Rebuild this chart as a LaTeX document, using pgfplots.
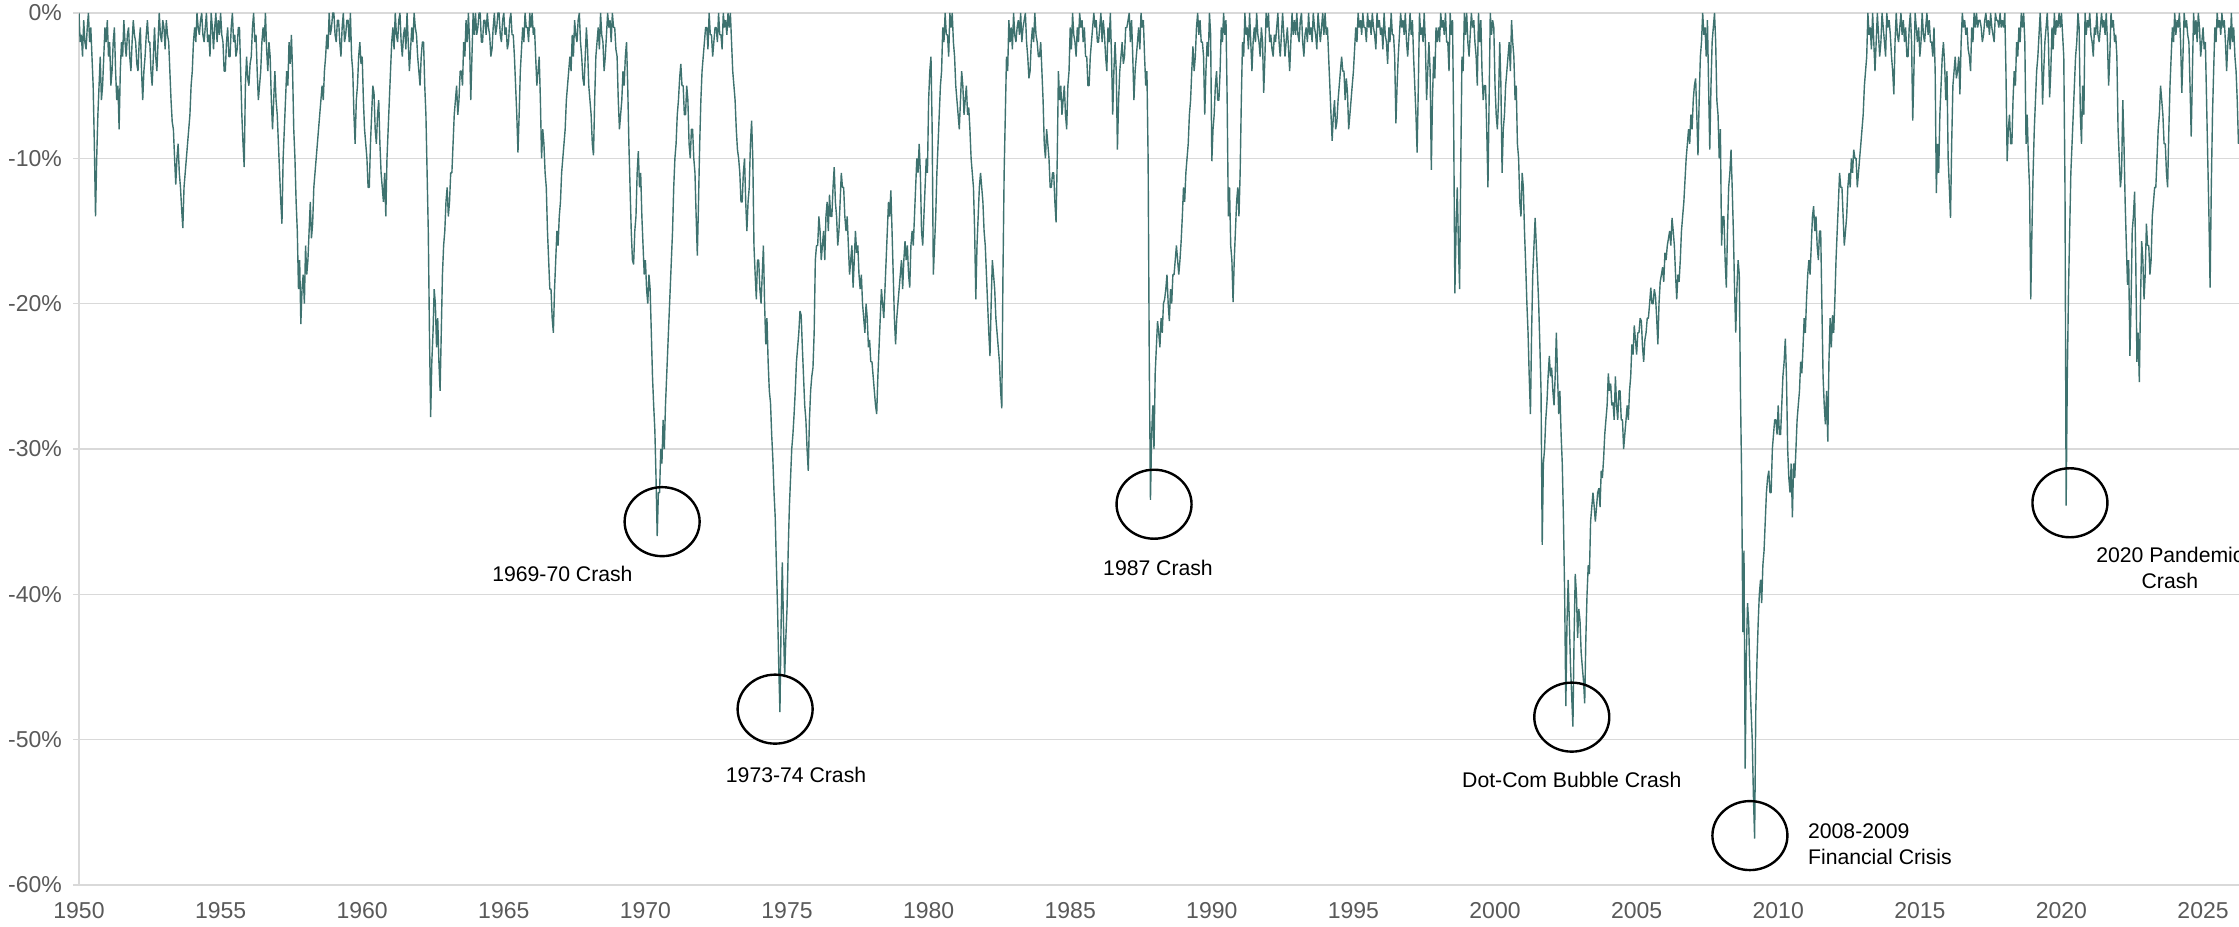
\documentclass[border=0pt]{standalone}
\usepackage{fontspec}
\setmainfont{Liberation Sans}
\usepackage{pgfplots}
\pgfplotsset{compat=1.18}

\definecolor{ddline}{RGB}{62,114,111}
\definecolor{gridgray}{RGB}{217,217,217}
\definecolor{ticktext}{RGB}{89,89,89}

\begin{document}
\begin{tikzpicture}
\begin{axis}[
    scale only axis,
    width=1080pt, height=436pt,
    xmin=1950, xmax=2026.27,
    ymin=-60, ymax=0,
    xtick={1950,1955,1960,1965,1970,1975,1980,1985,1990,1995,2000,2005,2010,2015,2020,2025},
    xticklabels={1950,1955,1960,1965,1970,1975,1980,1985,1990,1995,2000,2005,2010,2015,2020,2025},
    ytick={-60,-50,-40,-30,-20,-10,0},
    yticklabels={-60\%,-50\%,-40\%,-30\%,-20\%,-10\%,0\%},
    ymajorgrids,
    major grid style={draw=gridgray, line width=0.75pt},
    axis x line*=bottom, axis y line*=left,
    axis line style={-, draw=gridgray, line width=1pt},
    xtick style={draw=none},
    ytick style={draw=gridgray, line width=0.75pt},
    tick align=outside, major tick length=3pt,
    ticklabel style={font=\fontsize{11.5}{13}\selectfont, text=ticktext},
    yticklabel style={xshift=-2pt},
    xticklabel style={yshift=-2pt},
]
\coordinate (SW) at (rel axis cs:0,0);
\coordinate (NE) at (rel axis cs:1,1);

% drawdown from previous peak, %, two readings per month from Jan 1950
\addplot[ddline, line width=0.7pt, line join=bevel] table[header=false, row sep=\\, x expr={1950+\coordindex/24}, y index=0] {
0\\-2\\-1.5\\-3\\-0.5\\-2\\-2.5\\-1\\0\\-2\\-1\\-3\\-5\\-9\\-14\\-10\\-7\\-5\\-3\\-6\\-5\\-3\\-1\\-2\\
-0.5\\-3\\-2\\-5\\-4\\-2\\-1\\-4\\-6\\-5\\-8\\-4\\-2\\-3\\-0.5\\-2\\-3\\-1.5\\-1\\-3\\-4\\-2\\-0.5\\-1.5\\
-2\\-3.5\\-4\\-2\\-1\\-4\\-6\\-4\\-3\\-1.5\\-0.5\\-2\\-2\\-4\\-5\\-3\\-1\\-3\\-4\\-2\\0\\-1.5\\-2\\-0.5\\
-1\\-2.5\\-0.5\\-1.5\\-2\\-4\\-6\\-7.5\\-8\\-10\\-11.8\\-10\\-9\\-11\\-12\\-13.5\\-14.8\\-12\\-11\\-10\\-9\\-8\\-7\\-5\\
-4\\-2\\-1\\-2\\0\\-1\\-1.5\\-0.5\\0\\-1.5\\-2\\-1\\0\\-2\\-1.5\\-3\\0\\-1\\-2.5\\-1\\0\\-2\\-0.5\\-1.5\\
0\\-1.5\\-2\\-4\\-4\\-2\\-1\\-3\\-3\\-1\\0\\-2\\-1.5\\-3\\-2.5\\-1\\-1\\-4\\-7\\-9\\-10.6\\-5\\-3\\-4.5\\
-5\\-3.5\\-3\\-1\\0\\-2\\-1.5\\-4\\-6\\-5\\-4\\-2\\-1\\-2\\0\\-2.5\\-4\\-2\\-3\\-6\\-8\\-6\\-4\\-6\\
-7\\-9\\-11\\-13\\-14.5\\-10\\-8\\-6\\-4\\-5\\-2\\-3.5\\-1.5\\-4\\-8\\-10\\-13\\-15\\-19\\-17\\-21.4\\-19\\-18\\-20\\
-16\\-18\\-17\\-15\\-13\\-15.5\\-14.5\\-12\\-11\\-10\\-9\\-8\\-7\\-6\\-5\\-6\\-4\\-3\\-1.5\\-2.5\\0\\-1.5\\-1\\0\\
0\\-1.5\\-2\\-0.5\\-0.5\\-2\\-3\\-1\\0\\-2\\-1.5\\-0.5\\-0.5\\-2\\0\\-3\\-4\\-7\\-9\\-6\\-5\\-3\\-2\\-3.5\\
-3\\-6\\-8\\-9\\-10\\-12\\-12\\-9\\-7\\-5\\-5.5\\-8\\-9\\-7\\-6\\-9\\-11\\-12\\-13\\-11\\-14\\-10\\-8\\-6\\
-4\\-2\\-1\\-2.5\\0\\-1.5\\-2\\-0.5\\0\\-2\\-3\\-1.5\\-1\\-2.5\\0\\-2\\-4\\-2.5\\-1\\-2\\0\\-1\\-1.5\\-3\\
-4\\-5\\-3\\-2\\-2\\-5\\-7\\-11\\-15\\-22\\-27.8\\-24\\-22\\-19\\-20\\-23\\-21\\-24\\-26\\-22\\-18\\-16\\-15\\-13\\
-12\\-14\\-13\\-11\\-11\\-9\\-7\\-6\\-5\\-7\\-6\\-4\\-4\\-5\\-2\\-3\\-0.5\\-2\\0\\-2\\-6\\-3\\0\\-1.5\\
0\\-1.5\\-1\\0\\0\\-2\\-2\\-0.5\\-0.5\\-1.5\\0\\-1\\-1.5\\-3\\-2.5\\-1\\0\\-1.5\\-1\\0\\0\\-1.5\\-2\\-0.5\\
0\\-1.5\\-1\\-2.5\\-2\\-0.5\\0\\-1.5\\-1.5\\-3\\-5\\-7\\-9.6\\-7\\-4\\-2.5\\-1\\-2\\0\\-1\\-1\\-2\\0\\-1\\
0\\-1.5\\-1\\-3\\-5\\-4\\-3\\-6\\-10\\-8\\-9\\-11\\-12\\-15\\-17\\-19\\-19\\-21\\-22\\-19\\-17\\-15\\-16\\-14\\
-13\\-11\\-10\\-9\\-8\\-6\\-5\\-4\\-3\\-4\\-1.5\\-3\\-0.5\\-1.5\\-2\\-0.5\\0\\-2\\-3\\-4.5\\-5\\-3\\-1\\-2.5\\
-5\\-6\\-7\\-9\\-9.8\\-6\\-3\\-2\\-1\\-2.5\\0\\-1.5\\-2\\-4\\-3\\-1.5\\0\\-1\\-0.5\\-2\\0\\-1\\-1\\-2.5\\
-3\\-6\\-8\\-7\\-6\\-4\\-5\\-3\\-2\\-5\\-9\\-12\\-15\\-17\\-17.3\\-15\\-14\\-11\\-9.5\\-12\\-11\\-14\\-16\\-18\\
-17\\-19\\-20\\-18\\-19\\-22\\-25\\-27\\-28.7\\-32\\-36\\-33\\-33\\-30\\-31\\-28\\-30\\-27\\-25\\-23\\-21\\-19\\-17\\-15\\
-12\\-10\\-9\\-7\\-6\\-4.5\\-3.5\\-5\\-5\\-7\\-7\\-5\\-6\\-9\\-10\\-8\\-8\\-10\\-11\\-14\\-16.7\\-13\\-9\\-6\\
-4\\-3\\-2\\-1\\-1\\-2.5\\0\\-1.5\\-1.5\\-3\\-2\\-1\\-1\\-2\\0\\-1.5\\-1.5\\-2.5\\0\\-1\\-0.5\\-1.5\\0\\-1\\
0\\-2\\-4\\-5\\-6\\-8\\-9.4\\-10\\-11\\-13\\-13\\-11\\-10\\-13\\-15\\-13\\-12\\-9\\-7.4\\-10\\-16\\-18\\-19.7\\-17\\
-17\\-19\\-20\\-18\\-16\\-20\\-22.8\\-21\\-24\\-26\\-26.8\\-29\\-30.7\\-33\\-34.7\\-38\\-41\\-45\\-48.1\\-42\\-37.8\\-42\\-45.7\\-43\\
-41\\-37\\-34\\-32\\-30\\-29\\-27.6\\-26\\-24\\-23\\-22\\-20.5\\-20.8\\-23\\-25\\-27\\-28\\-30\\-31.5\\-28\\-26\\-25\\-24.4\\-22\\
-17\\-16\\-16\\-14\\-15\\-17\\-16\\-15\\-17\\-14\\-13\\-15\\-12.5\\-14\\-14\\-12\\-10.6\\-13\\-14\\-16\\-15\\-13\\-11\\-12\\
-12\\-14\\-15\\-14\\-16\\-18\\-17\\-16\\-18.9\\-17\\-15\\-16.5\\-16\\-18\\-19\\-18\\-20\\-21\\-22\\-20\\-21\\-23\\-22.5\\-24\\
-24\\-25\\-26\\-27\\-27.6\\-25\\-23\\-21\\-19\\-20\\-21\\-19\\-17\\-15\\-13\\-14\\-12.2\\-15\\-18\\-21\\-22.8\\-21\\-20\\-19\\
-18\\-17\\-19\\-17\\-15.7\\-17\\-16\\-18\\-18.9\\-16\\-15\\-16\\-14\\-12\\-10\\-11\\-9\\-11\\-15\\-16\\-14\\-12\\-10\\-11\\
-6\\-4\\-3\\-8\\-18\\-16\\-14\\-11\\-9\\-7\\-5\\-4\\-1\\-2\\0\\-1.5\\-1.5\\-3\\0\\-1\\0\\-2\\-3\\-5\\
-6\\-7\\-8\\-6\\-4\\-5\\-7\\-6\\-5\\-7\\-6.5\\-8\\-10\\-11\\-12\\-15\\-19.7\\-16\\-14\\-12\\-11\\-12\\-13\\-15\\
-16\\-18\\-20\\-22\\-23.6\\-20\\-17\\-18\\-19\\-21\\-22\\-23\\-24\\-26\\-27.2\\-18\\-11\\-7\\-3\\-4\\-0.5\\-2\\-1\\-2.5\\
0\\-1.5\\-2\\-1\\-0.5\\-1.5\\0\\-2\\-1\\-0.5\\0\\-2\\-3\\-4.5\\-4\\-2\\-1\\-2\\0\\-1.5\\-2\\-3\\-3\\-2\\
-4\\-6\\-9\\-10\\-8\\-9\\-10\\-12\\-12\\-11\\-11\\-13\\-14.4\\-10\\-4\\-6\\-5\\-7\\-6\\-5\\-7\\-8\\-5\\-4\\
-1\\-2.5\\0\\-1.5\\-2\\-3\\-1\\-2\\0\\-1\\-0.5\\-2\\-1\\-3\\-3\\-5\\-5\\-3\\-2\\-1\\0\\-1\\-0.5\\-2\\
-2\\-1\\0\\-2\\-0.5\\-1.5\\-3\\-4\\-1\\-2\\0\\-3\\-7\\-4\\-2\\-4\\-9.4\\-6\\-4\\-3\\-2\\-3.5\\-3\\-1\\
-1\\-0.5\\0\\-2\\-0.5\\-3\\-6\\-4\\-3\\-2\\-1\\-2.5\\0\\-1\\-0.5\\-3\\-5\\-4\\-10\\-24\\-33.5\\-29\\-27\\-30\\
-24.8\\-23\\-21.2\\-22\\-23\\-21\\-22\\-20\\-19.7\\-19\\-18\\-20\\-21.2\\-19\\-20\\-18\\-18\\-17\\-16\\-17\\-18\\-17\\-15.7\\-14\\
-12\\-13\\-11\\-10\\-9\\-7\\-6\\-4\\-2.3\\-4\\-3\\-1\\0\\-1.5\\-0.5\\-2\\-2\\-3\\-7\\-4\\-2\\-3\\0\\-1.5\\
-10.2\\-8\\-7\\-5\\-4\\-6\\-6\\-4\\-1\\-2\\0\\-1.5\\-0.5\\-6\\-14\\-12\\-16\\-17\\-19.9\\-17\\-15\\-13\\-12\\-14\\
-11\\-6\\-2\\-3\\0\\-1.5\\-1\\-2.5\\0\\-2\\-4\\-2\\-1\\-2\\0\\-1.5\\-2\\-3\\-1\\-2\\-5.5\\-3\\0\\-1\\
0\\-2\\-1.5\\-2.5\\-3\\-1.5\\-2\\-1\\0\\-2\\-3\\-1.5\\0\\-1.5\\-3\\-2\\-1\\-2.5\\-4\\-2\\0\\-1.5\\-0.5\\-1.5\\
0\\-1.5\\-2\\-0.5\\0\\-2\\-3\\-1.5\\-1\\-2\\0\\-1.5\\-1\\-2\\0\\-1\\-1.5\\-2.5\\0\\-1\\-2\\-1\\0\\-1.5\\
0\\-1.5\\-1\\-3\\-5\\-7\\-8.8\\-7\\-6\\-8\\-7.5\\-6\\-5\\-4\\-3\\-4\\-4\\-6\\-4.5\\-5.5\\-8\\-7\\-6\\-5\\
-4\\-2.5\\-1\\-2\\0\\-1\\-0.5\\-1.5\\0\\-1\\-1\\-2\\0\\-1\\-0.5\\-1.5\\0\\-1\\-1.5\\-2.5\\0\\-1\\-0.5\\-1.5\\
-1\\-2.5\\0\\-1.5\\-2\\-3.5\\-1\\-2\\0\\-1.5\\-1.5\\-3\\-7.6\\-5\\-3\\-1.5\\0\\-1\\-0.5\\-1.5\\0\\-2\\-3\\-1.5\\
0\\-1.5\\-0.5\\-3\\-5\\-7\\-9.6\\-5\\0\\-1.5\\-1\\-2\\0\\-2\\-6\\-4\\-2\\-4\\-10.8\\-6\\-3\\-4.5\\-1\\-2\\
-1\\-2\\0\\-1\\-0.5\\-1.5\\0\\-2\\-2\\-4\\0\\-1.5\\-0.5\\-8\\-19.3\\-15\\-12\\-16\\-19\\-10\\-3\\-4\\0\\-1.5\\
0\\-2\\-3\\-1.5\\0\\-1\\-0.5\\-2\\-3\\-5\\0\\-2\\-0.5\\-4\\-6\\-5\\-5\\-8\\-12\\-6\\0\\-1.5\\-0.5\\-1\\
-5\\-7\\-8\\-6\\-2\\-5\\-11\\-8\\-7\\-5\\-4\\-3\\-2\\-4\\-0.5\\-2\\-3\\-6\\-5\\-9\\-10\\-13\\-14\\-11\\
-12\\-15\\-17.3\\-20\\-22\\-25\\-27.6\\-22\\-18\\-16\\-14.1\\-16\\-18\\-20\\-22.8\\-26\\-36.6\\-31\\-30\\-28\\-26.8\\-25\\-23.6\\-25\\
-24.4\\-26\\-27\\-25\\-22\\-25\\-27.6\\-26\\-29\\-31\\-34.7\\-40\\-47.7\\-42\\-39\\-42\\-45\\-47\\-49.1\\-43\\-38.6\\-40\\-43\\-41\\
-41.8\\-44\\-45\\-46\\-47.5\\-43\\-40\\-38\\-38.6\\-35\\-34\\-33\\-33.9\\-35\\-34\\-33\\-32.7\\-34\\-31.5\\-32\\-30.7\\-29\\-28\\-27\\
-24.8\\-26\\-25.5\\-27\\-26.8\\-28\\-25\\-27\\-28\\-26\\-26\\-28\\-28\\-30\\-29\\-28\\-27\\-28\\-26\\-25\\-22.8\\-23.5\\-21.5\\-22.5\\
-23.5\\-22\\-22\\-21\\-21.2\\-23\\-24\\-22.5\\-22\\-21\\-21\\-20\\-18.9\\-20\\-20\\-19\\-19.5\\-21\\-22.8\\-20\\-18.5\\-18\\-17.5\\-18.5\\
-16.5\\-17\\-16\\-15.5\\-15\\-16\\-14.1\\-15\\-16\\-18\\-19.7\\-18\\-18.5\\-17\\-15\\-14\\-13\\-11.5\\-10\\-9\\-8\\-9\\-7\\-8\\
-6\\-5\\-4.5\\-7\\-9.8\\-6\\-3\\-2\\0\\-1.5\\-1\\-3\\-0.5\\-5\\-9.4\\-5\\-2\\-1\\0\\-2\\-6\\-7\\-10\\-8\\
-16\\-14\\-14\\-17\\-18.9\\-15\\-12\\-11\\-9.4\\-12\\-15\\-19\\-22\\-19\\-17\\-18\\-26\\-32\\-42.6\\-37\\-52\\-44\\-40.6\\-42\\
-45.7\\-48\\-50\\-54\\-56.8\\-48\\-44.5\\-42\\-40\\-39\\-40.6\\-38\\-37\\-35\\-33\\-32\\-31.5\\-33\\-33\\-30\\-29\\-28\\-28\\-29\\
-27\\-29\\-29\\-27\\-25\\-24\\-22.4\\-25\\-30\\-32\\-33\\-31\\-34.7\\-31\\-32\\-30\\-28\\-27\\-26\\-24\\-24.8\\-23\\-21\\-22\\
-19.7\\-18\\-17\\-18\\-16\\-14\\-13.3\\-15\\-14\\-16\\-17\\-15\\-15\\-20\\-25\\-27\\-28.3\\-26\\-29.5\\-24\\-21\\-23\\-20.8\\-22\\
-19.7\\-17\\-15\\-13\\-11\\-12\\-12\\-14\\-16\\-15\\-14\\-12\\-11\\-12\\-10\\-11\\-9.4\\-10\\-10\\-12\\-11\\-10\\-9\\-8\\
-7\\-5\\-4\\-3\\0\\-1.5\\-1\\-2.5\\0\\-2\\-4\\-2\\0\\-1.5\\-3\\-2\\0\\-1\\-2\\-3\\0\\-1\\-0.5\\-1.5\\
-3\\-4\\-5.6\\-2\\0\\-1.5\\-2\\-1\\0\\-1.5\\-0.5\\-2\\-1\\-3\\-3\\-1\\0\\-2\\-7.4\\-4\\0\\-1\\-2\\-1\\
-3\\-2\\0\\-1.5\\-2\\-1\\0\\-1.5\\-0.5\\-2\\-2\\-3\\-1\\-4\\-12.4\\-9\\-11\\-7\\-5\\-3\\-2\\-3.5\\-6\\-4\\
-10\\-12\\-14.1\\-9\\-5\\-4\\-3\\-4.5\\-4\\-3\\-5.6\\-2\\0\\-1\\-0.5\\-1.5\\-1\\-2.5\\-3\\-4\\-1\\-2\\0\\-1\\
0\\-1\\-0.5\\-0.5\\-1\\-2\\-1.5\\-0.5\\0\\-1\\-0.5\\-1.5\\0\\-1\\-1.5\\-2\\0\\-0.5\\-0.5\\-1\\0\\-1\\-0.5\\-1\\
0\\-4\\-10.2\\-8\\-7\\-9\\-9\\-6\\-4\\-5\\-2\\-3\\-1\\-2\\0\\-1\\0\\-2\\-9\\-7\\-10\\-12\\-19.7\\-15\\
-11\\-8\\-6\\-4\\-3\\-1.5\\0\\-2\\-6.3\\-4\\-2\\-1\\0\\-2\\-5.8\\-4\\-1\\-2.5\\0\\-1.5\\-0.5\\-1\\0\\-1\\
0\\-1.5\\-3\\-12\\-33.9\\-25\\-19\\-15\\-11\\-9\\-7\\-5\\-3\\-2\\0\\-1\\-7\\-9\\-5\\-7\\0\\-1.5\\-0.5\\-1\\
0\\-1.5\\-2\\-3\\-1\\-1.5\\0\\-1.5\\-2\\-1\\0\\-1\\-0.5\\-1.5\\0\\-2\\-5\\-3\\0\\-1\\-0.5\\-2\\-1.5\\-3\\
-8\\-10\\-12\\-11\\-6\\-9\\-13\\-16\\-18.7\\-17\\-23.6\\-20\\-15\\-14\\-12.3\\-17\\-24\\-22\\-25.4\\-20\\-15.7\\-17\\-19.7\\-18\\
-14.5\\-16\\-16\\-18\\-17\\-14\\-13\\-12\\-12\\-10\\-8\\-7\\-5\\-6\\-7\\-9\\-9\\-11\\-12\\-8\\-5\\-3\\-1\\-2\\
0\\-1.5\\-0.5\\-1\\0\\-2\\-5.5\\-3\\0\\-1\\-0.5\\-1.5\\-2\\-5\\-8.5\\-4\\0\\-1.5\\-0.5\\-2\\0\\-1\\-3\\-2\\
-1\\-2.5\\-2\\-6\\-10\\-14\\-18.9\\-12\\-7\\-4\\-1\\-2\\0\\-1\\-0.5\\-1.5\\0\\-1\\-0.5\\-2\\-4\\-2\\-1\\-2.5\\
0\\-2\\-1\\-3\\-4\\-6\\-9\\
};

% crash markers
\draw[black, line width=1.2pt] (axis cs:1970.59,-35.0) ellipse [x radius=18.75pt, y radius=17.25pt];
\draw[black, line width=1.2pt] (axis cs:1974.58,-47.9) ellipse [x radius=18.75pt, y radius=17.25pt];
\draw[black, line width=1.2pt] (axis cs:1987.96,-33.8) ellipse [x radius=18.75pt, y radius=17.25pt];
\draw[black, line width=1.2pt] (axis cs:2002.71,-48.45) ellipse [x radius=18.75pt, y radius=17.25pt];
\draw[black, line width=1.2pt] (axis cs:2009.00,-56.6) ellipse [x radius=18.75pt, y radius=17.25pt];
\draw[black, line width=1.2pt] (axis cs:2020.30,-33.7) ellipse [x radius=18.75pt, y radius=17.25pt];

\tikzset{lbl/.style={font=\fontsize{10.6}{13.2}\selectfont, text=black, inner sep=0pt}}
\node[lbl] at (axis cs:1967.07,-38.6) {1969-70 Crash};
\node[lbl] at (axis cs:1975.32,-52.4) {1973-74 Crash};
\node[lbl] at (axis cs:1988.10,-38.2) {1987 Crash};
\node[lbl] at (axis cs:2002.71,-52.75) {Dot-Com Bubble Crash};
\node[lbl, anchor=west, align=left] at (axis cs:2011.04,-57.2) {2008-2009\\Financial Crisis};
\node[lbl, align=center] at (axis cs:2023.83,-38.2) {2020 Pandemic\\Crash};
\end{axis}
\pgfresetboundingbox
\path[use as bounding box] ([xshift=-39.5pt,yshift=-21pt]SW) rectangle ([yshift=6.5pt]NE);
\end{tikzpicture}
\end{document}
